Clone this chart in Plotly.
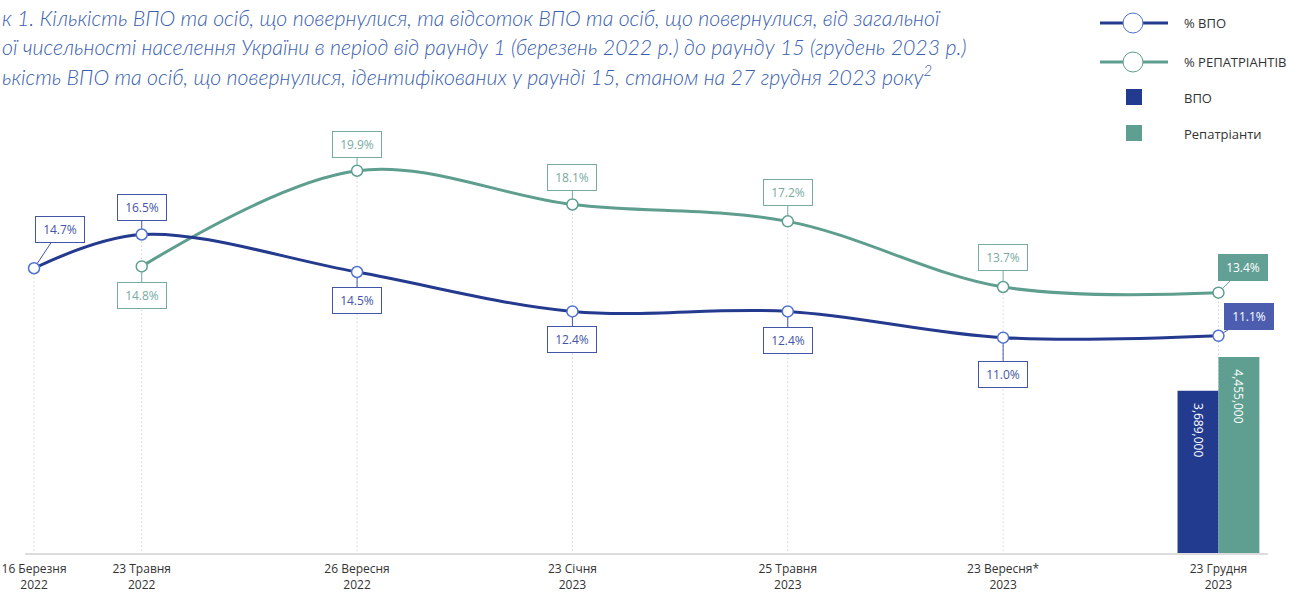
import plotly.graph_objects as go

# ---------------- data ----------------
x_pos = [0, 1, 3, 5, 7, 9, 11]
tick_labels = ["16 Березня<br>2022", "23 Травня<br>2022", "26 Вересня<br>2022",
               "23 Січня<br>2023", "25 Травня<br>2023", "23 Вересня*<br>2023",
               "23 Грудня<br>2023"]
pct_idp = [14.7, 16.5, 14.5, 12.4, 12.4, 11.0, 11.1]
pct_ret = [None, 14.8, 19.9, 18.1, 17.2, 13.7, 13.4]
bar_x = [11]
idp_count = [3689000]
ret_count = [4455000]

title_lines = [
    "к 1. Кількість ВПО та осіб, що повернулися, та відсоток ВПО та осіб, що повернулися, від загальної",
    "ої чисельності населення України в період від раунду 1 (березень 2022 р.) до раунду 15 (грудень 2023 р.)",
    "ькість ВПО та осіб, що повернулися, ідентифікованих у раунді 15, станом на 27 грудня 2023 року<sup>2</sup>",
]
legend_names = ["% ВПО", "% РЕПАТРІАНТІВ", "ВПО", "Репатріанти"]

# ---------------- styles ----------------
BLUE = "#243a8f"
BLUE_MK = "#4f72d0"
BLUE_LBL = "#4355a8"
BLUE_FILL = "#4c5daf"
GREEN = "#5e9e8f"
GREEN_LBL = "#78ab9f"
GREEN_FILL = "#62a095"
FONT = "Lato"

W, H = 1311, 593
ML, MR, MT, MB = 25, 43, 100, 40
PW, PH = W - ML - MR, H - MT - MB

def px_to_paper(px, py):
    return (px - ML) / PW, (H - MB - py) / PH

fig = go.Figure()

NB = "\u00a0\u00a0\u00a0"
fig.add_trace(go.Bar(x=bar_x, y=idp_count, yaxis="y2", width=0.38, offset=-0.38,
                     marker=dict(color="#233b8f", line=dict(width=0)),
                     text=[NB + f"{v:,}" for v in idp_count], textposition="inside",
                     insidetextanchor="end", textangle=90,
                     textfont=dict(color="white", size=12, family="Open Sans"),
                     showlegend=False, hoverinfo="skip"))
fig.add_trace(go.Bar(x=bar_x, y=ret_count, yaxis="y2", width=0.38, offset=0,
                     marker=dict(color="#5f9f91", line=dict(width=0)),
                     text=[NB + f"{v:,}" for v in ret_count], textposition="inside",
                     insidetextanchor="end", textangle=90,
                     textfont=dict(color="white", size=12, family="Open Sans"),
                     showlegend=False, hoverinfo="skip"))

fig.add_trace(go.Scatter(x=x_pos, y=pct_ret, mode="lines+markers",
                         line=dict(color=GREEN, width=3, shape="spline", smoothing=1.0),
                         marker=dict(size=11, color="white", line=dict(color=GREEN, width=1.5)),
                         connectgaps=False, showlegend=False, hoverinfo="skip"))
fig.add_trace(go.Scatter(x=x_pos, y=pct_idp, mode="lines+markers",
                         line=dict(color=BLUE, width=3, shape="spline", smoothing=1.0),
                         marker=dict(size=11, color="white", line=dict(color=BLUE_MK, width=1.5)),
                         showlegend=False, hoverinfo="skip"))

# dotted verticals from highest point down to axis
shapes = []
for i, xv in enumerate(x_pos):
    vals = [v for v in (pct_idp[i], pct_ret[i]) if v is not None]
    shapes.append(dict(type="line", xref="x", yref="y", x0=xv, x1=xv, y0=-1.0, y1=max(vals),
                       line=dict(color="#bdbdbd", width=1, dash="1px,3px"), layer="below"))

annotations = []
blue_off = [(26, -39), (0, -27), (0, 28), (0, 28), (0, 29), (0, 37), (31, -19)]
green_off = [None, (0, 29), (0, -26), (0, -27), (0, -29), (0, -30), (25, -25)]
for i, xv in enumerate(x_pos):
    for vals, offs, lcol, fill in ((pct_idp, blue_off, BLUE_LBL, BLUE_FILL),
                                   (pct_ret, green_off, GREEN_LBL, GREEN_FILL)):
        v = vals[i]
        if v is None:
            continue
        ax, ay = offs[i]
        filled = (i == len(x_pos) - 1)
        annotations.append(dict(
            x=xv, y=v, xref="x", yref="y", text=f"{v:.1f}%",
            showarrow=True, arrowhead=0, arrowwidth=1, arrowcolor=(fill if filled else lcol),
            ax=ax, ay=ay, standoff=6,
            font=dict(family="Open Sans", size=12, color=("white" if filled else lcol)),
            bgcolor=(fill if filled else "white"), bordercolor=(fill if filled else lcol),
            borderwidth=1, borderpad=4, width=40))

# title
for k, line in enumerate(title_lines):
    px, py = px_to_paper(0, 18 + 29 * k)
    annotations.append(dict(x=px, y=py, xref="paper", yref="paper", xanchor="left",
                            yanchor="middle", showarrow=False, text=f"<i>{line}</i>",
                            font=dict(family=FONT, size=21.3, color="#3a5fae", weight=300)))

# custom legend
leg_rows = [23, 62, 98, 134]
for j, col in enumerate([BLUE, GREEN]):
    x0, y0 = px_to_paper(1100, leg_rows[j])
    x1, _ = px_to_paper(1168, leg_rows[j])
    xc, _ = px_to_paper(1133, leg_rows[j])
    shapes.append(dict(type="line", xref="paper", yref="paper", x0=x0, x1=x1, y0=y0, y1=y0,
                       line=dict(color=col, width=3)))
    shapes.append(dict(type="circle", xref="paper", yref="paper", xsizemode="pixel",
                       ysizemode="pixel", xanchor=xc, yanchor=y0, x0=-10, x1=10, y0=-10, y1=10,
                       fillcolor="white", line=dict(color=(BLUE_MK if j == 0 else GREEN), width=1)))
for j, col in zip([2, 3], ["#233b8f", "#5f9f91"]):
    xc, yc = px_to_paper(1134, leg_rows[j] - 1)
    shapes.append(dict(type="rect", xref="paper", yref="paper", xsizemode="pixel",
                       ysizemode="pixel", xanchor=xc, yanchor=yc, x0=-8, x1=8, y0=-8, y1=8,
                       fillcolor=col, line=dict(width=0)))
for j, name in enumerate(legend_names):
    tx, ty = px_to_paper(1182, leg_rows[j])
    annotations.append(dict(x=tx, y=ty, xref="paper", yref="paper", xanchor="left",
                            yanchor="middle", showarrow=False, text=name,
                            font=dict(family="Open Sans", size=13, color="#333333")))

fig.update_layout(
    width=W, height=H,
    margin=dict(l=ML, r=MR, t=MT, b=MB, autoexpand=False),
    plot_bgcolor="white", paper_bgcolor="white",
    barmode="overlay",
    showlegend=False,
    xaxis=dict(range=[-0.084, 11.46], tickvals=x_pos, ticktext=tick_labels, automargin=False,
               showgrid=False, zeroline=False, showline=True, linecolor="#dcdcdc", linewidth=2,
               ticks="", ticklabelstandoff=4,
               tickfont=dict(family="Open Sans", size=12, color="#333333")),
    yaxis=dict(range=[-0.48, 23.67], visible=False, showgrid=False, zeroline=False),
    yaxis2=dict(range=[0, 10296000], overlaying="y", visible=False, showgrid=False,
                zeroline=False),
    shapes=shapes,
    annotations=annotations,
)

fig.write_html("out.html", config={"displayModeBar": False},
               post_script="document.body.style.margin='0';document.body.style.overflow='hidden';")
